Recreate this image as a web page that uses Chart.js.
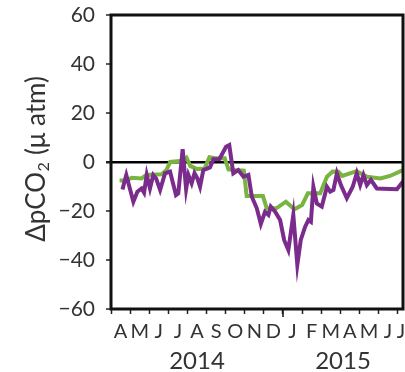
<!DOCTYPE html>
<html>
<head>
<meta charset="utf-8">
<script src="https://cdn.jsdelivr.net/npm/chart.js@4.4.1/dist/chart.umd.min.js"></script>
<style>
  html, body { margin: 0; padding: 0; background: #ffffff; }
  canvas { display: block; }
</style>
</head>
<body>
<canvas id="chart" width="405" height="372"></canvas>
<script>
// Time axis is measured in months since 1 April 2014.
const monthLetters = ['A', 'M', 'J', 'J', 'A', 'S', 'O', 'N', 'D', 'J', 'F', 'M', 'A', 'M', 'J', 'J'];
const yearLabels = ['2014', '2015'];
const yearStarts = [0, 9];          // month index where each year begins on the axis
const axisEndMonth = 15.28;
const yTickValues = [60, 40, 20, 0, -20, -40, -60];
const yTitleParts = ['\u0394pCO', '2', ' (\u03bc atm)'];   // main text, subscript, rest

// Green series
const greenMonths = [0.45, 0.8, 1.1, 1.6, 1.85, 2.65, 2.9, 3.1, 3.75, 3.95, 4.15, 4.5, 4.9, 5.15, 5.45,
  5.95, 6.15, 6.4, 6.95, 7.1, 7.95, 8.15, 8.65, 9.15, 9.6, 10.0, 10.3, 10.95, 11.3, 11.6, 11.9, 12.1,
  12.85, 13.4, 14.1, 14.6, 15.28];
const greenValues = [-7.5, -7.5, -6.4, -6.7, -5.3, -5.0, -3.3, 0, 0.5, 1.8, -1.6, -2.9, -2.6, 1.9, 1.5,
  1.5, -3.0, -3.3, -3.5, -13.9, -13.9, -18.9, -18.9, -16.2, -19.3, -17.6, -12.8, -12.8, -6.0, -3.9, -4.0, -5.7,
  -3.7, -6.0, -6.7, -5.7, -3.3];

// Purple series
const purpleMonths = [0.6, 0.8, 1.17, 1.38, 1.6, 1.73, 1.87, 2.04, 2.21, 2.36, 2.57, 2.83, 3.09, 3.4, 3.52,
  3.75, 3.93, 4.05, 4.22, 4.37, 4.52, 4.66, 4.83, 5.18, 5.36, 5.67, 6.02, 6.19, 6.4, 6.66, 6.93, 7.19, 7.37,
  7.63, 7.84, 8.06, 8.24, 8.36, 8.59, 8.85, 9.06, 9.28, 9.54, 9.75, 9.93, 10.16, 10.33, 10.46, 10.59, 10.77,
  11.03, 11.3, 11.47, 11.64, 11.82, 12.03, 12.34, 12.65, 12.86, 13.04, 13.21, 13.39, 13.6, 13.91, 14.96, 15.28];
const purpleValues = [-11.2, -5.3, -16.2, -12.1, -10.8, -12.5, -5.3, -10.8, -5.3, -6.7, -11.4, -4.6, -3.9,
  -13.5, -12.8, 5.2, -11.1, -5.3, -8.7, -4.6, -6.7, -10.1, -3.3, -2.2, 1.1, 1.1, 6.2, 6.9, -4.6, -3.3, -6.0,
  -5.3, -14.2, -18.9, -25.3, -20.3, -21.6, -18.2, -20.3, -23.7, -31.8, -35.9, -21.6, -42.0, -31.8, -26.4,
  -23.7, -24.4, -10.1, -16.9, -18.2, -10.1, -12.1, -11.4, -4.6, -9.4, -14.8, -10.1, -4.6, -9.4, -5.3, -9.4,
  -7.3, -10.8, -11.1, -8.0];

const FONT = "Lato, 'Open Sans', sans-serif";
const TEXT = '#333333';
Chart.defaults.font.family = FONT;

const toPoints = (xs, ys) => xs.map((x, i) => ({ x: x, y: ys[i] }));
const signed = v => (v < 0 ? '\u2212' + Math.abs(v) : String(v));

const monthCenters = monthLetters.map((_, i) => Math.min(i + 0.5, axisEndMonth - 0.1));
const yearCenters = yearStarts.map((s, i) => {
  const end = i + 1 < yearStarts.length ? yearStarts[i + 1] : axisEndMonth;
  return (s + end) / 2;
});
const monthBoundaries = Array.from({ length: Math.floor(axisEndMonth) + 1 }, (_, i) => i);

const noPadX = s => { s.paddingLeft = 0; s.paddingRight = 0; };

// Frame around the plot, longer tick marks at year boundaries
const framePlugin = {
  id: 'frame',
  afterDraw(chart) {
    const { ctx, chartArea: a } = chart;
    const xs = chart.scales.x;
    ctx.save();
    ctx.strokeStyle = '#111111';
    ctx.lineWidth = 1.5;
    yearStarts.forEach(m => {
      if (m <= xs.min) return;
      const px = xs.getPixelForValue(m);
      ctx.beginPath();
      ctx.moveTo(px, a.bottom);
      ctx.lineTo(px, a.bottom + 8);
      ctx.stroke();
    });
    ctx.lineWidth = 3;
    ctx.strokeRect(a.left, a.top, a.right - a.left, a.bottom - a.top);
    ctx.restore();
  }
};

// Rotated y-axis title with a true subscript
const yTitlePlugin = {
  id: 'yTitle',
  afterDraw(chart) {
    const { ctx, chartArea: a } = chart;
    const mainFont = "26px " + FONT;
    const subFont = "16px " + FONT;
    ctx.save();
    ctx.fillStyle = TEXT;
    ctx.textBaseline = 'alphabetic';
    ctx.textAlign = 'left';
    ctx.font = mainFont;
    const w0 = ctx.measureText(yTitleParts[0]).width;
    const w2 = ctx.measureText(yTitleParts[2]).width;
    ctx.font = subFont;
    const w1 = ctx.measureText(yTitleParts[1]).width + 1;
    const total = w0 + w1 + w2;
    ctx.translate(45, (a.top + a.bottom) / 2 - 3);
    ctx.rotate(-Math.PI / 2);
    let x = -total / 2;
    ctx.font = mainFont;
    ctx.fillText(yTitleParts[0], x, 0);
    x += w0;
    ctx.font = subFont;
    ctx.fillText(yTitleParts[1], x + 0.5, 4);
    x += w1;
    ctx.font = mainFont;
    ctx.fillText(yTitleParts[2], x, 0);
    ctx.restore();
  }
};

new Chart(document.getElementById('chart'), {
  type: 'line',
  data: {
    datasets: [
      {
        label: 'purple',
        data: toPoints(purpleMonths, purpleValues),
        borderColor: '#7B2B8C',
        borderWidth: 4,
        pointRadius: 0,
        tension: 0,
        order: 0
      },
      {
        label: 'green',
        data: toPoints(greenMonths, greenValues),
        borderColor: '#79B340',
        borderWidth: 4,
        pointRadius: 0,
        tension: 0,
        order: 1
      }
    ]
  },
  plugins: [framePlugin, yTitlePlugin],
  options: {
    responsive: false,
    animation: false,
    devicePixelRatio: 1,
    layout: { padding: { left: 0, right: 2, top: 15, bottom: 0 } },
    plugins: { legend: { display: false }, tooltip: { enabled: false } },
    scales: {
      x: {
        type: 'linear', position: 'bottom', weight: 0,
        min: 0, max: axisEndMonth,
        afterBuildTicks: s => { s.ticks = monthBoundaries.map(v => ({ value: v })); },
        ticks: { display: false },
        grid: { drawOnChartArea: false, drawTicks: true, tickLength: 5, tickColor: '#222222', tickWidth: 1.5 },
        border: { display: false },
        afterFit: s => { s.height = 6; noPadX(s); }
      },
      xMonth: {
        type: 'linear', position: 'bottom', weight: 1,
        min: 0, max: axisEndMonth,
        afterBuildTicks: s => { s.ticks = monthCenters.map(v => ({ value: v })); },
        ticks: {
          autoSkip: false, maxRotation: 0, padding: 5,
          color: TEXT, font: { size: 20 },
          callback: (v, i) => monthLetters[i]
        },
        grid: { display: false, drawTicks: false },
        border: { display: false },
        afterFit: s => { s.height = 25; noPadX(s); }
      },
      xYear: {
        type: 'linear', position: 'bottom', weight: 2,
        min: 0, max: axisEndMonth,
        afterBuildTicks: s => { s.ticks = yearCenters.map(v => ({ value: v })); },
        ticks: {
          autoSkip: false, maxRotation: 0, padding: 7,
          color: TEXT, font: { size: 24 },
          callback: (v, i) => yearLabels[i]
        },
        grid: { display: false, drawTicks: false },
        border: { display: false },
        afterFit: s => { s.height = 32; noPadX(s); }
      },
      y: {
        type: 'linear', position: 'left',
        min: -60, max: 60,
        afterBuildTicks: s => { s.ticks = yTickValues.map(v => ({ value: v })); },
        ticks: { padding: 11, color: TEXT, font: { size: 21 }, callback: v => signed(v) },
        grid: {
          drawOnChartArea: true,
          color: c => (c.tick && c.tick.value === 0 ? '#000000' : 'rgba(0,0,0,0)'),
          lineWidth: c => (c.tick && c.tick.value === 0 ? 2.5 : 0),
          tickLength: 5,
          tickColor: '#222222',
          tickWidth: c => (c.tick && c.tick.value === 0 ? 2.5 : 1.5)
        },
        border: { display: false },
        title: { display: false },
        afterFit: s => { s.width = 111; s.paddingTop = 0; s.paddingBottom = 0; }
      }
    }
  }
});
</script>
</body>
</html>
